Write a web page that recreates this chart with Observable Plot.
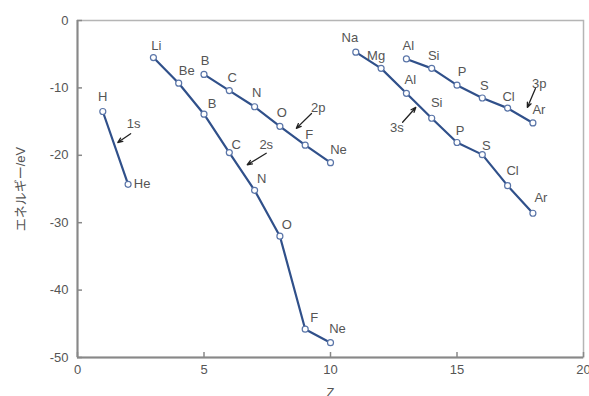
<!DOCTYPE html>
<html>
<head>
<meta charset="utf-8">
<script src="https://cdn.jsdelivr.net/npm/d3@7"></script>
<script src="https://cdn.jsdelivr.net/npm/@observablehq/plot@0.6"></script>
<style>
  html, body { margin: 0; padding: 0; background: #fff; }
  #chart svg { display: block; }
</style>
</head>
<body>
<div id="chart"></div>
<script>
// Elements by atomic number Z (1..18)
const elements = ["H","He","Li","Be","B","C","N","O","F","Ne","Na","Mg","Al","Si","P","S","Cl","Ar"];

// Orbital energies (eV)
const z1s = [1, 2];
const e1s = [-13.5, -24.3];
const z2s = [3, 4, 5, 6, 7, 8, 9, 10];
const e2s = [-5.5, -9.3, -13.9, -19.6, -25.2, -32.0, -45.8, -47.8];
const z2p = [5, 6, 7, 8, 9, 10];
const e2p = [-8.0, -10.4, -12.8, -15.7, -18.5, -21.1];
const z3s = [11, 12, 13, 14, 15, 16, 17, 18];
const e3s = [-4.7, -7.1, -10.8, -14.5, -18.1, -19.9, -24.5, -28.6];
const z3p = [13, 14, 15, 16, 17, 18];
const e3p = [-5.7, -7.1, -9.6, -11.5, -13.0, -15.2];

// Orbital annotation labels and arrows (label position, arrow tail, arrow head)
const orbNames = ["1s", "2s", "2p", "3s", "3p"];
const orbLabelZ = [2.22, 7.46, 9.52, 12.62, 18.25];
const orbLabelE = [-15.4, -18.4, -12.9, -15.9, -9.35];
const arrowZ1 = [2.10, 7.46, 9.25, 12.85, 18.10];
const arrowE1 = [-16.8, -19.7, -13.8, -15.1, -10.1];
const arrowZ2 = [1.59, 6.71, 8.65, 13.37, 17.78];
const arrowE2 = [-18.1, -21.4, -16.0, -12.9, -12.9];

const xTicks = [0, 5, 10, 15, 20];
const yTicks = [0, -10, -20, -30, -40, -50];

// Build table
const series = [["1s", z1s, e1s], ["2s", z2s, e2s], ["2p", z2p, e2p], ["3s", z3s, e3s], ["3p", z3p, e3p]];
const rows = series.flatMap(([orb, zs, es]) => zs.map((z, i) => ({orb, z, e: es[i], el: elements[z - 1]})));
const orbRows = orbNames.map((name, i) => ({name, x: orbLabelZ[i], y: orbLabelE[i], x1: arrowZ1[i], y1: arrowE1[i], x2: arrowZ2[i], y2: arrowE2[i]}));

// label placement offsets (pixels) relative to each point
const offsets = {
  "1s:H": [0, -15], "1s:He": [14, 0],
  "2s:Li": [3, -12], "2s:Be": [8, -12], "2s:B": [8, -10], "2s:C": [7, -8], "2s:N": [7, -12],
  "2s:O": [7, -11], "2s:F": [9, -11], "2s:Ne": [7, -14],
  "2p:B": [1, -14], "2p:C": [3, -13], "2p:N": [2, -14], "2p:O": [2, -13], "2p:F": [4, -10], "2p:Ne": [8, -13],
  "3s:Na": [-6, -14], "3s:Mg": [-5, -13], "3s:Al": [4, -13], "3s:Si": [5, -15], "3s:P": [3, -12],
  "3s:S": [4, -9], "3s:Cl": [5, -15], "3s:Ar": [8, -15],
  "3p:Al": [2, -13], "3p:Si": [2, -13], "3p:P": [5, -13], "3p:S": [2, -12], "3p:Cl": [1, -11], "3p:Ar": [6, -13]
};

const lineColor = "#30508a";
const textColor = "#555";

const labelMarks = rows.map(r => {
  const [dx, dy] = offsets[r.orb + ":" + r.el] || [0, -13];
  return Plot.text([r], {x: "z", y: "e", text: "el", dx, dy, fill: textColor, fontSize: 13});
});

const chart = Plot.plot({
  width: 589,
  height: 396,
  marginLeft: 77,
  marginRight: 6,
  marginTop: 20,
  marginBottom: 39,
  style: {fontFamily: "'Liberation Sans', Arial, 'Noto Sans CJK JP', sans-serif", background: "#fff", color: textColor},
  x: {domain: [0, 20]},
  y: {domain: [-50, 0]},
  marks: [
    Plot.frame({stroke: "#b5b5b5", strokeWidth: 1.5}),
    Plot.ruleX([0], {stroke: "#888", strokeWidth: 2}),
    Plot.ruleY([-50], {stroke: "#888", strokeWidth: 2}),
    // inward tick marks
    Plot.axisX({ticks: xTicks, tickSize: 5, dy: -5, tickFormat: () => "", label: null, stroke: "#888", strokeWidth: 1.5}),
    Plot.axisY({ticks: yTicks, tickSize: 5, dx: 5, tickFormat: () => "", label: null, stroke: "#888", strokeWidth: 1.5}),
    // tick labels and axis titles
    Plot.axisX({ticks: xTicks, tickSize: 0, tickPadding: 7, fontSize: 13,
      label: "Z", labelAnchor: "center", labelOffset: 39, labelArrow: "none", tickFormat: d => String(d)}),
    Plot.axisY({ticks: yTicks, tickSize: 0, tickPadding: 9, fontSize: 13,
      label: "エネルギー/eV", labelAnchor: "center", labelOffset: 62, labelArrow: "none",
      tickFormat: d => d < 0 ? "-" + (-d) : String(d)}),
    Plot.line(rows, {x: "z", y: "e", z: "orb", stroke: lineColor, strokeWidth: 2.2}),
    Plot.dot(rows, {x: "z", y: "e", r: 3, fill: "white", stroke: "#5a75a8", strokeWidth: 1.2}),
    ...labelMarks,
    Plot.arrow(orbRows, {x1: "x1", y1: "y1", x2: "x2", y2: "y2", stroke: "#222", strokeWidth: 1.3, headLength: 6, headAngle: 45}),
    Plot.text(orbRows, {x: "x", y: "y", text: "name", fill: textColor, fontSize: 13})
  ]
});
document.getElementById("chart").appendChild(chart);
</script>
</body>
</html>
